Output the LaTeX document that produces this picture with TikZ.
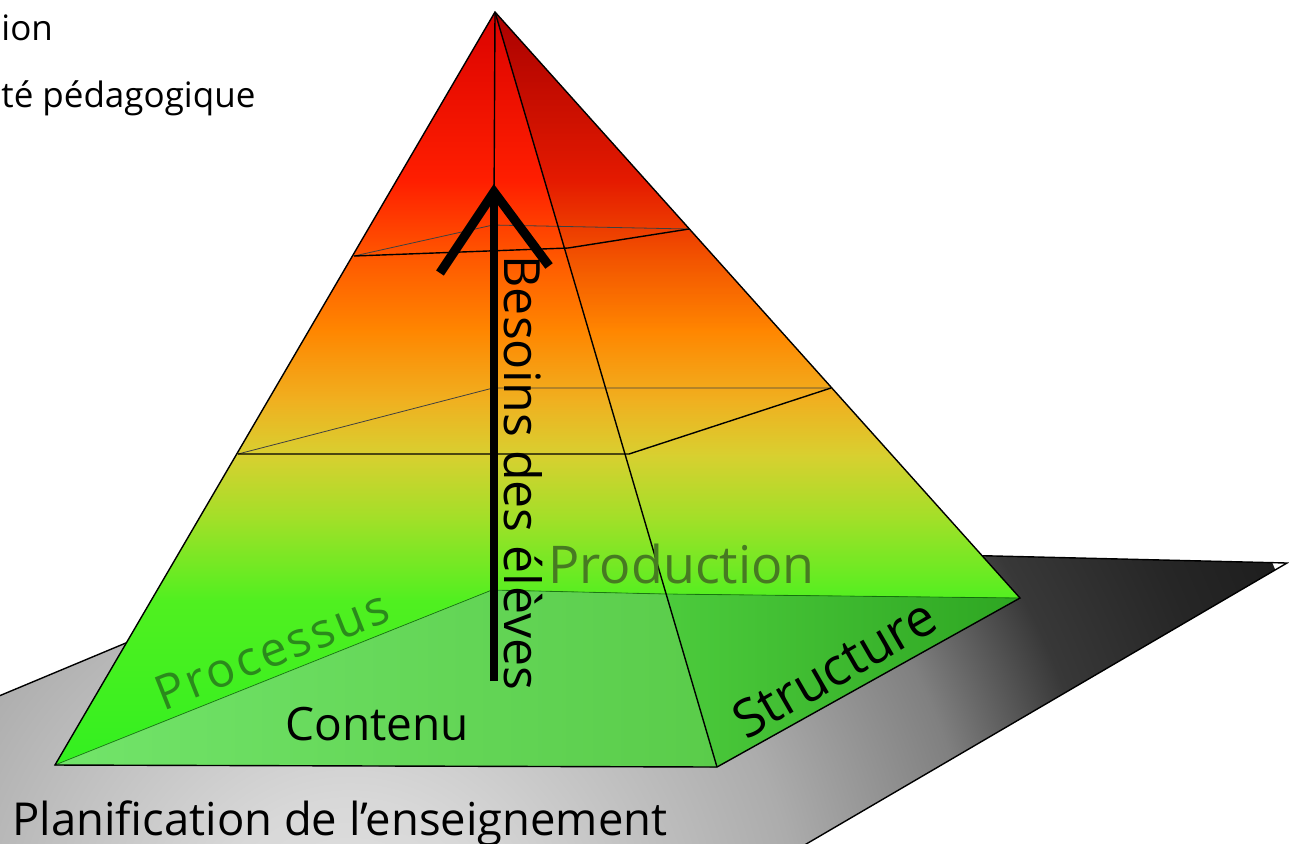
\documentclass[tikz,border=0pt]{standalone}
\usepackage{fontspec}
\usetikzlibrary{fadings}
\setmainfont{Open Sans}
\definecolor{g0}{HTML}{E2E2E2}
\definecolor{g1}{HTML}{D8D8D8}
\definecolor{g2}{HTML}{ACACAC}
\definecolor{g3}{HTML}{808080}
\definecolor{g4}{HTML}{383838}
\definecolor{g5}{HTML}{262626}
\definecolor{g6}{HTML}{1E1E1E}
\definecolor{p0}{HTML}{D80000}
\definecolor{p1}{HTML}{FF1E00}
\definecolor{p2}{HTML}{FF5A00}
\definecolor{p3}{HTML}{FF8600}
\definecolor{p4}{HTML}{F0B020}
\definecolor{p5}{HTML}{D8D030}
\definecolor{p6}{HTML}{A0E028}
\definecolor{p7}{HTML}{50F020}
\definecolor{p8}{HTML}{30F020}
\definecolor{contenu}{HTML}{72E46A}
\definecolor{contenuR}{HTML}{5ACC4A}
\definecolor{structL}{HTML}{4CCB3C}
\definecolor{structR}{HTML}{2EA622}
\definecolor{prodtxt}{HTML}{477A22}
\definecolor{proctxt}{HTML}{2B8A1C}
\pgfdeclareradialshading{groundshade}{\pgfpoint{0bp}{0bp}}{color(0bp)=(g0); color(3.75bp)=(g1); color(11.25bp)=(g2); color(15.75bp)=(g3); color(19bp)=(g4); color(22.5bp)=(g5); color(25bp)=(g6); color(50bp)=(g6)}
\begin{document}
\begin{tikzpicture}[x=0.5pt, y=-0.5pt,
    edge/.style={black, line width=0.7pt},
    faint/.style={black!75, line width=0.4pt},
    seam/.style={green!35!black, line width=0.4pt, opacity=0.6},
    lbl/.style={inner sep=0pt, font=\fontsize{23}{27}\selectfont},
    small/.style={inner sep=0pt, font=\fontsize{17.5}{21}\selectfont},
    shaft/.style={line width=4pt},
    chev/.style={line width=4.6pt, line join=miter}
]
\clip (0,0) rectangle (1289,843);
\coordinate (gb) at (370,541);
\coordinate (gr) at (1287,563);
\coordinate (gf) at (760,871);
\coordinate (gl) at (-420,871);
\coordinate (a) at (495,12);
\coordinate (bl) at (55,765);
\coordinate (br) at (717,767);
\coordinate (rb) at (1020,598);
\coordinate (lb) at (492,590);
\coordinate (p) at (666,594);
\coordinate (fm) at (589,330);
\coordinate (rm) at (780,330);
\coordinate (l1) at (354,256);
\coordinate (f1) at (568,248);
\coordinate (r1) at (689,229);
\coordinate (b1) at (493,225);
\coordinate (l2) at (238,454);
\coordinate (f2) at (629,454);
\coordinate (r2) at (831,388);
\coordinate (b2) at (493,388);
\coordinate (tail) at (494,681);
\coordinate (tip) at (494,192);
\coordinate (hl) at (440,273);
\coordinate (hr) at (549,266);
\begin{scope}
\clip (gb) -- (gr) -- (gf) -- (gl) -- cycle;
\shade[shading=groundshade] (350,950) circle (1000);
\end{scope}
\draw[edge] (gb) -- (gr) -- (gf) -- (gl) -- cycle;
\begin{scope}
\clip (a) -- (bl) -- (br) -- (rb) -- cycle;
\foreach \ya/\yb/\ca/\cb in {0/180/p0/p1, 180/260/p1/p2, 260/330/p2/p3, 330/400/p3/p4,
    400/455/p4/p5, 455/520/p5/p6, 520/600/p6/p7, 600/780/p7/p8}
    \fill[top color=\ca, bottom color=\cb] (0,\ya) rectangle (1289,\yb+1);
\fill[black, opacity=0.22, path fading=south] (a) -- (fm) -- (rm) -- cycle;
\fill[left color=contenu, right color=contenuR] (bl) -- (br) -- (p) -- (lb) -- cycle;
\fill[left color=structL, right color=structR] (br) -- (rb) -- (p) -- cycle;
\end{scope}
\draw[seam] (bl) -- (lb) -- (p) -- (rb);
\draw[faint] (l1) -- (b1) -- (r1);
\draw[faint] (l2) -- (b2) -- (r2);
\draw[edge] (l1) -- (f1) -- (r1);
\draw[edge] (l2) -- (f2) -- (r2);
\draw[edge] (a) -- (lb);
\draw[edge] (a) -- (br);
\draw[edge] (a) -- (bl) -- (br) -- (rb) -- cycle;
\draw[shaft] (tail) -- (tip);
\draw[chev] (hl) -- (tip) -- (hr);
\node[lbl, rotate=-90, font=\fontsize{25}{29}\selectfont] (besoins) at (523,473) {Besoins des élèves};
\node[lbl, anchor=base west] (contenu) at (285,740) {Contenu};
\node[lbl, anchor=base west, text=prodtxt, font=\fontsize{26}{30}\selectfont] (production) at (548,583) {Production};
\node[lbl, rotate=21.6, text=proctxt, font={\fontsize{24}{28}\selectfont\addfontfeatures{LetterSpace=6}}] (processus) at (272,650) {Processus};
\node[lbl, rotate=30, font=\fontsize{26}{30}\selectfont] (structure) at (834,668) {Structure};
\node[lbl, anchor=base west, font=\fontsize{22.7}{27}\selectfont] (planif) at (12,835) {Planification de l’enseignement};
\node[small, anchor=base west] (tion) at (1,40) {ion};
\node[small, anchor=base west] (peda) at (1,107) {té pédagogique};
\end{tikzpicture}
\end{document}
